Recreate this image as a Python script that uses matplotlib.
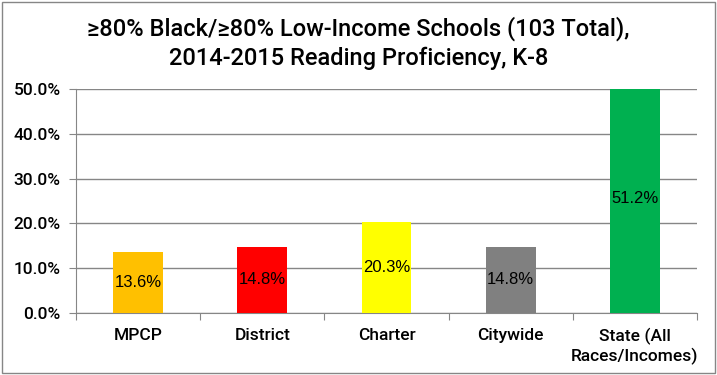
import matplotlib.pyplot as plt
from matplotlib.patches import Rectangle
from matplotlib.ticker import FuncFormatter

categories = ['MPCP', 'District', 'Charter', 'Citywide', 'State (All\nRaces/Incomes)']
values = [13.6, 14.8, 20.3, 14.8, 51.2]
colors = ['#FFC000', '#FF0000', '#FFFF00', '#808080', '#00B050']

fig = plt.figure(figsize=(7.17, 3.75), dpi=100)
ax = fig.add_axes([76 / 717, 1 - 313 / 375, (697 - 76) / 717, (313 - 89) / 375])

x = range(len(categories))
bars = ax.bar(x, values, width=0.4, color=colors, zorder=3)

for b, v in zip(bars, values):
    ax.text(b.get_x() + b.get_width() / 2, v / 2, f'{v:.1f}%', ha='center', va='center',
            fontsize=12, family='Liberation Sans', zorder=4)

ax.set_ylim(0, 50)
ax.set_xlim(-0.5, len(categories) - 0.5)
ax.set_yticks(range(0, 51, 10))
ax.yaxis.set_major_formatter(FuncFormatter(lambda v, p: f'{v:.1f}%'))
ax.set_xticks([i + 0.5 for i in range(-1, len(categories))], minor=False)
ax.set_xticklabels([])
ax.set_xticks(list(x), minor=True)
ax.set_xticklabels(categories, minor=True, fontsize=12.5, fontweight='medium', family='Roboto')
ax.tick_params(axis='x', which='minor', length=0, pad=11)
ax.tick_params(axis='x', which='major', length=5, color='#868686')
ax.tick_params(axis='y', length=5, color='#868686', labelsize=12.5, pad=6)
for lab in ax.get_yticklabels():
    lab.set_fontweight('medium')
    lab.set_family('Roboto')

ax.grid(axis='y', color='#868686', linewidth=1, zorder=0)
for s in ['top', 'right']:
    ax.spines[s].set_visible(False)
for s in ['left', 'bottom']:
    ax.spines[s].set_color('#868686')

fig.text(0.5, 1 - 43 / 375, '≥80% Black/≥80% Low-Income Schools (103 Total),\n2014-2015 Reading Proficiency, K-8',
         ha='center', va='center', fontsize=17, fontweight='medium', family='Roboto',
         linespacing=1.3)

fig.patches.append(Rectangle((2 / 717, 2 / 375), 713 / 717, 371 / 375, transform=fig.transFigure,
                             fill=False, edgecolor='#868686', linewidth=1))

fig.savefig('out.png', dpi=100)
